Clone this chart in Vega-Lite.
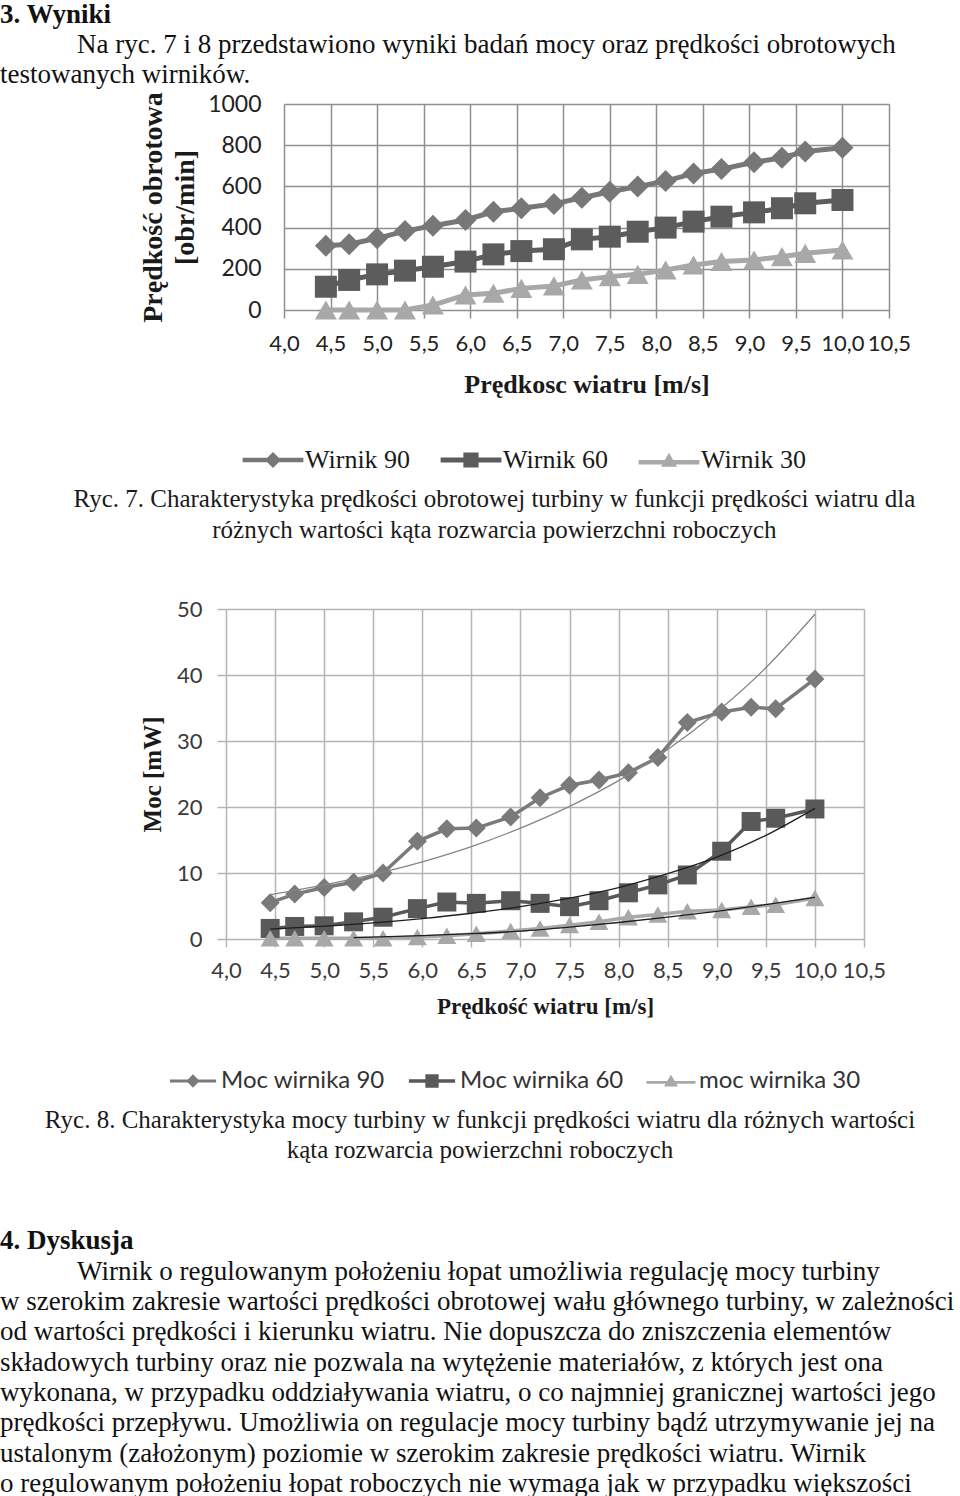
{
  "$schema": "https://vega.github.io/schema/vega-lite/v6.json",
  "padding": 0,
  "background": "white",
  "spacing": 0,
  "bounds": "flush",
  "config": {"view": {"stroke": null}},
  "resolve": {
    "scale": {"color": "independent", "fill": "independent", "shape": "independent"},
    "legend": {"color": "independent", "fill": "independent", "shape": "independent"}
  },
  "datasets": {
    "obroty": [
      {"wiatr": 4.45, "Wirnik 90": 312, "Wirnik 60": 113, "Wirnik 30": 0},
      {"wiatr": 4.7, "Wirnik 90": 319, "Wirnik 60": 146, "Wirnik 30": 0},
      {"wiatr": 5.0, "Wirnik 90": 348, "Wirnik 60": 173, "Wirnik 30": 0},
      {"wiatr": 5.3, "Wirnik 90": 383, "Wirnik 60": 191, "Wirnik 30": 0},
      {"wiatr": 5.6, "Wirnik 90": 409, "Wirnik 60": 210, "Wirnik 30": 24},
      {"wiatr": 5.95, "Wirnik 90": 437, "Wirnik 60": 235, "Wirnik 30": 73},
      {"wiatr": 6.25, "Wirnik 90": 477, "Wirnik 60": 270, "Wirnik 30": 81},
      {"wiatr": 6.55, "Wirnik 90": 494, "Wirnik 60": 286, "Wirnik 30": 105},
      {"wiatr": 6.9, "Wirnik 90": 515, "Wirnik 60": 295, "Wirnik 30": 117},
      {"wiatr": 7.2, "Wirnik 90": 545, "Wirnik 60": 343, "Wirnik 30": 146},
      {"wiatr": 7.5, "Wirnik 90": 574, "Wirnik 60": 356, "Wirnik 30": 162},
      {"wiatr": 7.8, "Wirnik 90": 599, "Wirnik 60": 380, "Wirnik 30": 173},
      {"wiatr": 8.1, "Wirnik 90": 626, "Wirnik 60": 400, "Wirnik 30": 194},
      {"wiatr": 8.4, "Wirnik 90": 663, "Wirnik 60": 429, "Wirnik 30": 218},
      {"wiatr": 8.7, "Wirnik 90": 684, "Wirnik 60": 453, "Wirnik 30": 235},
      {"wiatr": 9.05, "Wirnik 90": 717, "Wirnik 60": 474, "Wirnik 30": 243},
      {"wiatr": 9.35, "Wirnik 90": 739, "Wirnik 60": 494, "Wirnik 30": 259},
      {"wiatr": 9.6, "Wirnik 90": 769, "Wirnik 60": 518, "Wirnik 30": 275},
      {"wiatr": 10.0, "Wirnik 90": 788, "Wirnik 60": 534, "Wirnik 30": 291}
    ],
    "moc": [
      {"wiatr": 4.45, "Moc wirnika 90": 5.5, "Moc wirnika 60": 1.6, "moc wirnika 30": 0.1},
      {"wiatr": 4.7, "Moc wirnika 90": 6.8, "Moc wirnika 60": 1.9, "moc wirnika 30": 0.1},
      {"wiatr": 5.0, "Moc wirnika 90": 7.8, "Moc wirnika 60": 2.0, "moc wirnika 30": 0.1},
      {"wiatr": 5.3, "Moc wirnika 90": 8.6, "Moc wirnika 60": 2.6, "moc wirnika 30": 0.1},
      {"wiatr": 5.6, "Moc wirnika 90": 10.0, "Moc wirnika 60": 3.3, "moc wirnika 30": 0.1},
      {"wiatr": 5.95, "Moc wirnika 90": 14.8, "Moc wirnika 60": 4.6, "moc wirnika 30": 0.3},
      {"wiatr": 6.25, "Moc wirnika 90": 16.7, "Moc wirnika 60": 5.6, "moc wirnika 30": 0.5},
      {"wiatr": 6.55, "Moc wirnika 90": 16.8, "Moc wirnika 60": 5.4, "moc wirnika 30": 0.8},
      {"wiatr": 6.9, "Moc wirnika 90": 18.5, "Moc wirnika 60": 5.8, "moc wirnika 30": 1.2},
      {"wiatr": 7.2, "Moc wirnika 90": 21.4, "Moc wirnika 60": 5.4, "moc wirnika 30": 1.6},
      {"wiatr": 7.5, "Moc wirnika 90": 23.3, "Moc wirnika 60": 4.9, "moc wirnika 30": 2.1},
      {"wiatr": 7.8, "Moc wirnika 90": 24.1, "Moc wirnika 60": 5.8, "moc wirnika 30": 2.6},
      {"wiatr": 8.1, "Moc wirnika 90": 25.2, "Moc wirnika 60": 7.0, "moc wirnika 30": 3.3},
      {"wiatr": 8.4, "Moc wirnika 90": 27.5, "Moc wirnika 60": 8.2, "moc wirnika 30": 3.7},
      {"wiatr": 8.7, "Moc wirnika 90": 32.8, "Moc wirnika 60": 9.7, "moc wirnika 30": 4.2},
      {"wiatr": 9.05, "Moc wirnika 90": 34.4, "Moc wirnika 60": 13.3, "moc wirnika 30": 4.4},
      {"wiatr": 9.35, "Moc wirnika 90": 35.1, "Moc wirnika 60": 17.8, "moc wirnika 30": 4.9},
      {"wiatr": 9.6, "Moc wirnika 90": 34.9, "Moc wirnika 60": 18.3, "moc wirnika 30": 5.2},
      {"wiatr": 10.0, "Moc wirnika 90": 39.4, "Moc wirnika 60": 19.7, "moc wirnika 30": 6.2}
    ],
    "trend": [
      {"linia": "t90", "wiatr": 4.45, "moc": 6.7},
      {"linia": "t90", "wiatr": 5.0, "moc": 8.2},
      {"linia": "t90", "wiatr": 5.5, "moc": 9.8},
      {"linia": "t90", "wiatr": 6.0, "moc": 11.7},
      {"linia": "t90", "wiatr": 6.5, "moc": 14.0},
      {"linia": "t90", "wiatr": 7.0, "moc": 16.8},
      {"linia": "t90", "wiatr": 7.5, "moc": 20.1},
      {"linia": "t90", "wiatr": 8.0, "moc": 24.0},
      {"linia": "t90", "wiatr": 8.5, "moc": 28.7},
      {"linia": "t90", "wiatr": 9.0, "moc": 34.4},
      {"linia": "t90", "wiatr": 9.5, "moc": 41.1},
      {"linia": "t90", "wiatr": 10.0, "moc": 49.2},
      {"linia": "t60", "wiatr": 4.45, "moc": 1.5},
      {"linia": "t60", "wiatr": 5.0, "moc": 1.95},
      {"linia": "t60", "wiatr": 5.5, "moc": 2.45},
      {"linia": "t60", "wiatr": 6.0, "moc": 3.1},
      {"linia": "t60", "wiatr": 6.5, "moc": 3.9},
      {"linia": "t60", "wiatr": 7.0, "moc": 4.9},
      {"linia": "t60", "wiatr": 7.5, "moc": 6.2},
      {"linia": "t60", "wiatr": 8.0, "moc": 7.8},
      {"linia": "t60", "wiatr": 8.5, "moc": 9.9},
      {"linia": "t60", "wiatr": 9.0, "moc": 12.4},
      {"linia": "t60", "wiatr": 9.5, "moc": 15.7},
      {"linia": "t60", "wiatr": 10.0, "moc": 19.8},
      {"linia": "t30", "wiatr": 5.3, "moc": 0.2},
      {"linia": "t30", "wiatr": 6.0, "moc": 0.5},
      {"linia": "t30", "wiatr": 6.5, "moc": 0.8},
      {"linia": "t30", "wiatr": 7.0, "moc": 1.2},
      {"linia": "t30", "wiatr": 7.5, "moc": 1.8},
      {"linia": "t30", "wiatr": 8.0, "moc": 2.5},
      {"linia": "t30", "wiatr": 8.5, "moc": 3.3},
      {"linia": "t30", "wiatr": 9.0, "moc": 4.2},
      {"linia": "t30", "wiatr": 9.5, "moc": 5.2},
      {"linia": "t30", "wiatr": 10.0, "moc": 6.3}
    ]
  },
  "vconcat": [
    {
      "width": 960,
      "height": 102,
      "data": {"values": [
        {"wiersz": 1, "rodzaj": "naglowek", "tekst": "3. Wyniki"},
        {"wiersz": 2, "rodzaj": "akapit1", "tekst": "Na ryc. 7 i 8 przedstawiono wyniki badań mocy oraz prędkości obrotowych"},
        {"wiersz": 3, "rodzaj": "akapit", "tekst": "testowanych wirników."}
      ]},
      "encoding": {
        "x": {"datum": 0, "type": "quantitative", "scale": {"domain": [0, 1], "nice": false}, "axis": null},
        "y": {"field": "wiersz", "type": "quantitative", "scale": {"domain": [0.57, 3.97], "nice": false, "reverse": true}, "axis": null},
        "text": {"field": "tekst"}
      },
      "layer": [
        {"transform": [{"filter": "datum.rodzaj === 'naglowek'"}],
         "mark": {"type": "text", "align": "left", "baseline": "middle", "font": "Liberation Serif", "fontSize": 27, "fontWeight": "bold", "color": "#111111"}},
        {"transform": [{"filter": "datum.rodzaj === 'akapit1'"}],
         "mark": {"type": "text", "align": "left", "baseline": "middle", "dx": 77, "font": "Liberation Serif", "fontSize": 27, "color": "#111111"}},
        {"transform": [{"filter": "datum.rodzaj === 'akapit'"}],
         "mark": {"type": "text", "align": "left", "baseline": "middle", "font": "Liberation Serif", "fontSize": 27, "color": "#111111"}}
      ]
    },
    {
      "spacing": 0,
      "bounds": "flush",
      "resolve": {
        "scale": {"color": "independent", "fill": "independent", "shape": "independent"},
        "legend": {"color": "independent", "fill": "independent", "shape": "independent"}
      },
      "hconcat": [
        {"width": 284, "height": 206, "data": {"values": []}, "mark": "point"},
        {
          "width": 605,
          "height": 206,
          "data": {"name": "obroty"},
          "encoding": {
            "x": {"field": "wiatr", "type": "quantitative",
              "scale": {"domain": [4, 10.5], "nice": false, "zero": false},
              "axis": {"values": [4, 4.5, 5, 5.5, 6, 6.5, 7, 7.5, 8, 8.5, 9, 9.5, 10, 10.5],
                "labelExpr": "replace(format(datum.value, '.1f'), '.', ',')",
                "title": "Prędkosc wiatru [m/s]",
                "domain": false, "grid": true, "gridColor": "#8f8f8f", "gridWidth": 1.5,
                "ticks": true, "tickSize": 8, "tickColor": "#8f8f8f", "tickWidth": 1.5,
                "labelFont": "Lato", "labelFontSize": 22, "labelColor": "#222222", "labelPadding": 15,
                "labelOverlap": false, "labelFlush": false,
                "titleFont": "Liberation Serif", "titleFontSize": 26, "titleFontWeight": "bold", "titleColor": "#1a1a1a", "titlePadding": 17}},
            "y": {"field": "obroty", "type": "quantitative",
              "scale": {"domain": [0, 1000], "nice": false},
              "axis": {"values": [0, 200, 400, 600, 800, 1000], "format": "d",
                "title": ["Prędkość obrotowa", "[obr/min]"],
                "domain": false, "grid": true, "gridColor": "#8f8f8f", "gridWidth": 1.5,
                "ticks": false, "tickSize": 0,
                "labelFont": "Lato", "labelFontSize": 23, "labelColor": "#222222", "labelPadding": 23,
                "titleFont": "Liberation Serif", "titleFontSize": 28, "titleFontWeight": "bold", "titleColor": "#1a1a1a",
                "titleLineHeight": 32, "titlePadding": 8}}
          },
          "layer": [
            {"transform": [{"fold": ["Wirnik 90", "Wirnik 60", "Wirnik 30"], "as": ["seria", "obroty"]}],
             "mark": {"type": "line", "strokeWidth": 5},
             "encoding": {"color": {"field": "seria", "type": "nominal",
               "scale": {"range": ["#a8a8a8", "#5c5c5c", "#777777"]}, "legend": null}}},
            {"transform": [{"fold": ["Wirnik 90", "Wirnik 60", "Wirnik 30"], "as": ["seria", "obroty"]}],
             "mark": {"type": "point", "filled": true, "opacity": 1, "size": 484},
             "encoding": {
               "color": {"field": "seria", "type": "nominal",
                 "scale": {"range": ["#a8a8a8", "#5c5c5c", "#777777"]}, "legend": null},
               "shape": {"condition": [
                 {"test": "datum.seria === 'Wirnik 90'", "value": "diamond"},
                 {"test": "datum.seria === 'Wirnik 60'", "value": "square"}], "value": "triangle-up"}}},
            {"transform": [{"fold": ["Wirnik 90", "Wirnik 60", "Wirnik 30"], "as": ["seria", "obroty"]}, {"filter": "false"}],
             "mark": {"type": "point", "filled": true, "opacity": 1},
             "encoding": {
               "fill": {"field": "seria", "type": "nominal",
                 "scale": {"domain": ["Wirnik 90", "Wirnik 60", "Wirnik 30"], "range": ["#777777", "#5c5c5c", "#a8a8a8"]},
                 "legend": {"title": null, "orient": "none", "legendX": -47, "legendY": 343, "direction": "horizontal",
                   "symbolSize": 256, "symbolStrokeWidth": 0, "symbolOffset": 23, "labelOffset": 19, "columnPadding": 24,
                   "labelFont": "Liberation Serif", "labelFontSize": 26, "labelColor": "#1a1a1a", "labelLimit": 300}},
               "shape": {"field": "seria", "type": "nominal",
                 "scale": {"domain": ["Wirnik 90", "Wirnik 60", "Wirnik 30"],
                   "range": ["M-3.8,-0.29H3.8V0.29H-3.8Z M-1,0L0,-1L1,0L0,1Z",
                             "M-3.8,-0.32H3.8V0.32H-3.8Z M-0.95,-0.95H0.95V0.95H-0.95Z",
                             "M-3.8,0H3.8V0.55H-3.8Z M-1,0.85L0,-0.9L1,0.85Z"]},
                 "legend": {"title": null, "orient": "none", "legendX": -47, "legendY": 343, "direction": "horizontal",
                   "symbolSize": 256, "symbolStrokeWidth": 0, "symbolOffset": 23, "labelOffset": 19, "columnPadding": 24,
                   "labelFont": "Liberation Serif", "labelFontSize": 26, "labelColor": "#1a1a1a", "labelLimit": 300}}}}
          ]
        }
      ]
    },
    {
      "width": 960,
      "height": 505,
      "data": {"values": [
        {"wiersz": 1, "tekst": "Ryc. 7. Charakterystyka prędkości obrotowej turbiny w funkcji prędkości wiatru dla"},
        {"wiersz": 2, "tekst": "różnych wartości kąta rozwarcia powierzchni roboczych"}
      ]},
      "mark": {"type": "text", "align": "center", "baseline": "middle", "font": "Liberation Serif", "fontSize": 25, "color": "#1a1a1a"},
      "encoding": {
        "x": {"datum": 0.515, "type": "quantitative", "scale": {"domain": [0, 1], "nice": false}, "axis": null},
        "y": {"field": "wiersz", "type": "quantitative", "scale": {"domain": [-11.742, 4.548], "nice": false, "reverse": true}, "axis": null},
        "text": {"field": "tekst"}
      }
    },
    {
      "spacing": 0,
      "bounds": "flush",
      "resolve": {
        "scale": {"color": "independent", "fill": "independent", "shape": "independent"},
        "legend": {"color": "independent", "fill": "independent", "shape": "independent"}
      },
      "hconcat": [
        {"width": 226, "height": 330, "data": {"values": []}, "mark": "point"},
        {
          "width": 638,
          "height": 330,
          "data": {"name": "moc"},
          "encoding": {
            "x": {"field": "wiatr", "type": "quantitative",
              "scale": {"domain": [4, 10.5], "nice": false, "zero": false},
              "axis": {"values": [4, 4.5, 5, 5.5, 6, 6.5, 7, 7.5, 8, 8.5, 9, 9.5, 10, 10.5],
                "labelExpr": "replace(format(datum.value, '.1f'), '.', ',')",
                "title": "Prędkość wiatru [m/s]",
                "domain": false, "grid": true, "gridColor": "#b4b4b4", "gridWidth": 1.5,
                "ticks": true, "tickSize": 8, "tickColor": "#b4b4b4", "tickWidth": 1.5,
                "labelFont": "Lato", "labelFontSize": 22, "labelColor": "#3a3a3a", "labelPadding": 13,
                "labelOverlap": false, "labelFlush": false,
                "titleFont": "Liberation Serif", "titleFontSize": 23, "titleFontWeight": "bold", "titleColor": "#1a1a1a", "titlePadding": 14}},
            "y": {"field": "moc", "type": "quantitative",
              "scale": {"domain": [0, 50], "nice": false},
              "axis": {"values": [0, 10, 20, 30, 40, 50], "format": "d",
                "title": "Moc [mW]",
                "domain": false, "grid": true, "gridColor": "#b4b4b4", "gridWidth": 1.5,
                "ticks": true, "tickSize": 9, "tickColor": "#b4b4b4", "tickWidth": 1.5,
                "labelFont": "Lato", "labelFontSize": 22, "labelColor": "#3a3a3a", "labelPadding": 15,
                "titleFont": "Liberation Serif", "titleFontSize": 25, "titleFontWeight": "bold", "titleColor": "#1a1a1a", "titlePadding": 11}}
          },
          "layer": [
            {"transform": [{"fold": ["Moc wirnika 90", "Moc wirnika 60", "moc wirnika 30"], "as": ["seria", "moc"]}],
             "mark": {"type": "line", "strokeWidth": 3.5},
             "encoding": {"color": {"field": "seria", "type": "nominal",
               "scale": {"range": ["#595959", "#7a7a7a", "#a8a8a8"]}, "legend": null}}},
            {"transform": [{"fold": ["Moc wirnika 90", "Moc wirnika 60", "moc wirnika 30"], "as": ["seria", "moc"]}],
             "mark": {"type": "point", "filled": true, "opacity": 1, "size": 361},
             "encoding": {
               "color": {"field": "seria", "type": "nominal",
                 "scale": {"range": ["#595959", "#7a7a7a", "#a8a8a8"]}, "legend": null},
               "shape": {"condition": [
                 {"test": "datum.seria === 'Moc wirnika 90'", "value": "diamond"},
                 {"test": "datum.seria === 'Moc wirnika 60'", "value": "square"}], "value": "triangle-up"}}},
            {"data": {"name": "trend"},
             "transform": [{"filter": "datum.linia === 't90'"}],
             "mark": {"type": "line", "strokeWidth": 1.3, "color": "#858585", "interpolate": "monotone"},
             "encoding": {}},
            {"data": {"name": "trend"},
             "transform": [{"filter": "datum.linia !== 't90'"}],
             "mark": {"type": "line", "strokeWidth": 1.3, "color": "#1e1e1e", "interpolate": "monotone"},
             "encoding": {"detail": {"field": "linia"}}},
            {"transform": [{"fold": ["Moc wirnika 90", "Moc wirnika 60", "moc wirnika 30"], "as": ["seria", "moc"]}, {"filter": "false"}],
             "mark": {"type": "point", "filled": true, "opacity": 1},
             "encoding": {
               "fill": {"field": "seria", "type": "nominal",
                 "scale": {"domain": ["Moc wirnika 90", "Moc wirnika 60", "moc wirnika 30"], "range": ["#7a7a7a", "#595959", "#a8a8a8"]},
                 "legend": {"title": null, "orient": "none", "legendX": -61, "legendY": 460, "direction": "horizontal",
                   "symbolSize": 196, "symbolStrokeWidth": 0, "symbolOffset": 16, "labelOffset": 16, "columnPadding": 19,
                   "labelFont": "Lato", "labelFontSize": 24, "labelColor": "#333333", "labelLimit": 300}},
               "shape": {"field": "seria", "type": "nominal",
                 "scale": {"domain": ["Moc wirnika 90", "Moc wirnika 60", "moc wirnika 30"],
                   "range": ["M-3.3,-0.22H3.3V0.22H-3.3Z M-0.95,0L0,-0.95L0.95,0L0,0.95Z",
                             "M-3.3,-0.25H3.3V0.25H-3.3Z M-0.95,-0.95H0.95V0.95H-0.95Z",
                             "M-3.5,0H3.5V0.4H-3.5Z M-1,0.8L0,-0.9L1,0.8Z"]},
                 "legend": {"title": null, "orient": "none", "legendX": -61, "legendY": 460, "direction": "horizontal",
                   "symbolSize": 196, "symbolStrokeWidth": 0, "symbolOffset": 16, "labelOffset": 16, "columnPadding": 19,
                   "labelFont": "Lato", "labelFontSize": 24, "labelColor": "#333333", "labelLimit": 300}}}}
          ]
        }
      ]
    },
    {
      "width": 960,
      "height": 889,
      "data": {"values": [
        {"wiersz": 1, "rodzaj": "podpis", "tekst": "Ryc. 8. Charakterystyka mocy turbiny w funkcji prędkości wiatru dla różnych wartości"},
        {"wiersz": 2, "rodzaj": "podpis", "tekst": "kąta rozwarcia powierzchni roboczych"},
        {"wiersz": 5, "rodzaj": "naglowek", "tekst": "4. Dyskusja"},
        {"wiersz": 6, "rodzaj": "akapit1", "tekst": "Wirnik o regulowanym położeniu łopat umożliwia regulację mocy turbiny"},
        {"wiersz": 7, "rodzaj": "akapit", "tekst": "w szerokim zakresie wartości prędkości obrotowej wału głównego turbiny, w zależności"},
        {"wiersz": 8, "rodzaj": "akapit", "tekst": "od wartości prędkości i kierunku wiatru. Nie dopuszcza do zniszczenia elementów"},
        {"wiersz": 9, "rodzaj": "akapit", "tekst": "składowych turbiny oraz nie pozwala na wytężenie materiałów, z których jest ona"},
        {"wiersz": 10, "rodzaj": "akapit", "tekst": "wykonana, w przypadku oddziaływania wiatru, o co najmniej granicznej wartości jego"},
        {"wiersz": 11, "rodzaj": "akapit", "tekst": "prędkości przepływu. Umożliwia on regulacje mocy turbiny bądź utrzymywanie jej na"},
        {"wiersz": 12, "rodzaj": "akapit", "tekst": "ustalonym (założonym) poziomie w szerokim zakresie prędkości wiatru. Wirnik"},
        {"wiersz": 13, "rodzaj": "akapit", "tekst": "o regulowanym położeniu łopat roboczych nie wymaga jak w przypadku większości"}
      ]},
      "encoding": {
        "y": {"field": "wiersz", "type": "quantitative", "scale": {"domain": [-15.85, 13.46], "nice": false, "reverse": true}, "axis": null},
        "text": {"field": "tekst"}
      },
      "layer": [
        {"transform": [{"filter": "datum.rodzaj === 'podpis'"}],
         "mark": {"type": "text", "align": "center", "baseline": "middle", "font": "Liberation Serif", "fontSize": 25, "color": "#1a1a1a"},
         "encoding": {"x": {"datum": 0.5, "type": "quantitative", "scale": {"domain": [0, 1], "nice": false}, "axis": null}}},
        {"transform": [{"filter": "datum.rodzaj === 'naglowek'"}],
         "mark": {"type": "text", "align": "left", "baseline": "middle", "font": "Liberation Serif", "fontSize": 27, "fontWeight": "bold", "color": "#111111"},
         "encoding": {"x": {"datum": 0, "type": "quantitative", "scale": {"domain": [0, 1], "nice": false}, "axis": null}}},
        {"transform": [{"filter": "datum.rodzaj === 'akapit1'"}],
         "mark": {"type": "text", "align": "left", "baseline": "middle", "dx": 77, "font": "Liberation Serif", "fontSize": 27, "color": "#111111"},
         "encoding": {"x": {"datum": 0, "type": "quantitative", "scale": {"domain": [0, 1], "nice": false}, "axis": null}}},
        {"transform": [{"filter": "datum.rodzaj === 'akapit'"}],
         "mark": {"type": "text", "align": "left", "baseline": "middle", "font": "Liberation Serif", "fontSize": 27, "color": "#111111"},
         "encoding": {"x": {"datum": 0, "type": "quantitative", "scale": {"domain": [0, 1], "nice": false}, "axis": null}}}
      ]
    }
  ]
}
